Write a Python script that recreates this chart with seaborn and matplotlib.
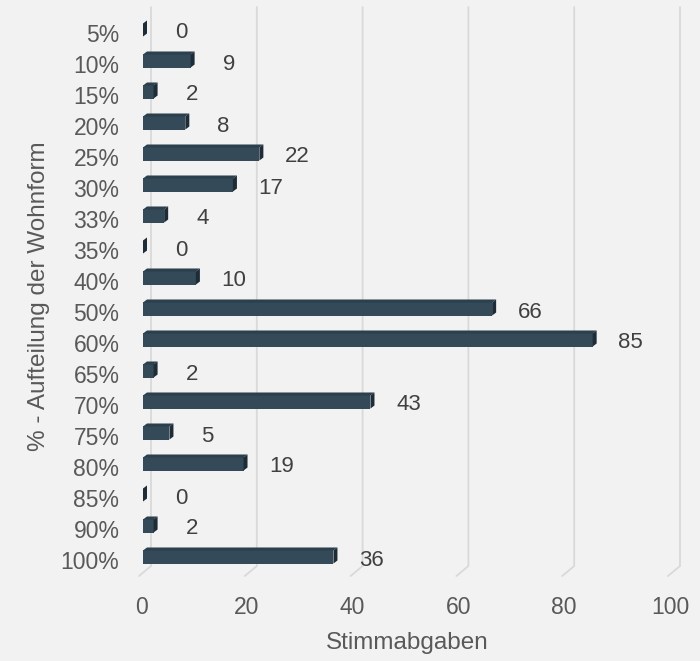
import matplotlib
matplotlib.use("Agg")
import matplotlib.pyplot as plt
import pandas as pd
import seaborn as sns
from matplotlib.patches import Polygon
from matplotlib.lines import Line2D
from matplotlib.transforms import ScaledTranslation, IdentityTransform

# Data
anteile = ["5%", "10%", "15%", "20%", "25%", "30%", "33%", "35%", "40%",
           "50%", "60%", "65%", "70%", "75%", "80%", "85%", "90%", "100%"]
stimmen = [0, 9, 2, 8, 22, 17, 4, 0, 10, 66, 85, 2, 43, 5, 19, 0, 2, 36]
x_ticks = [0, 20, 40, 60, 80, 100]

df = pd.DataFrame({"Anteil": anteile, "Stimmabgaben": stimmen})

BG = "#F2F2F2"
FRONT = "#344A59"
TOP = "#2B3F4C"
SIDE = "#1D2C36"
GRID = "#D9D9D9"
TICK_COLOR = "#595959"
LABEL_COLOR = "#404040"

sns.set_theme(style="white")
plt.rcParams["font.family"] = ["Liberation Sans", "DejaVu Sans"]

W, H = 700, 661
fig = plt.figure(figsize=(W / 100, H / 100), dpi=100, facecolor=BG)
ax = fig.add_axes([143 / W, 1 - 575.5 / H, 529 / W, 558 / H])
ax.set_facecolor(BG)

sns.barplot(data=df, x="Stimmabgaben", y="Anteil", orient="h", color=FRONT,
            saturation=1, width=0.42, ax=ax, zorder=3)

ax.set_xlim(0, 100)
ax.set_ylim(len(anteile) - 0.5, -0.5)
ax.set_xticks(x_ticks)
for s in ax.spines.values():
    s.set_visible(False)
ax.tick_params(axis="both", length=0, labelsize=16.5, labelcolor=TICK_COLOR)
ax.tick_params(axis="x", pad=15)
ax.tick_params(axis="y", pad=17)
ax.grid(False)

ax.set_xlabel("Stimmabgaben", fontsize=17.5, color=TICK_COLOR, labelpad=9)
ax.set_ylabel("% - Aufteilung der Wohnform", fontsize=17.5, color=TICK_COLOR, labelpad=8)

# bars sit slightly above the row centre, with a top and side face for depth
lift = ScaledTranslation(0, 0.03, fig.dpi_scale_trans)
bar_tr = ax.transData + lift
dx = 4 / 529 * 100      # depth in x data units (4 px)
dy = 3 / 31             # depth in row units (3 px)
for p in list(ax.patches):
    p.set_transform(bar_tr)
    p.set_edgecolor("none")
    x0 = p.get_x()
    y0 = p.get_y()
    x1 = x0 + p.get_width()
    y1 = y0 + p.get_height()
    top = Polygon([(x0, y0), (x0 + dx, y0 - dy), (x1 + dx, y0 - dy), (x1, y0)],
                  closed=True, facecolor=TOP, edgecolor="none", transform=bar_tr,
                  zorder=3, clip_on=False)
    side = Polygon([(x1, y0), (x1 + dx, y0 - dy), (x1 + dx, y1 - dy), (x1, y1)],
                   closed=True, facecolor=SIDE, edgecolor="none", transform=bar_tr,
                   zorder=3, clip_on=False)
    ax.add_patch(top)
    ax.add_patch(side)

# value labels
for i, v in enumerate(stimmen):
    ax.annotate(str(v), xy=(v, i), xytext=(27.5, 0), textcoords="offset points",
                ha="center", va="center", fontsize=16, color=LABEL_COLOR,
                annotation_clip=False)

# back-wall gridlines with the slanted floor segment
fig.canvas.draw()
for t in x_ticks:
    xf = ax.transData.transform((t, 0))[0]
    ln = Line2D([xf + 8, xf + 8, xf - 4], [H - 7, H - 566, H - 576],
                transform=IdentityTransform(), color=GRID, lw=1.3, zorder=0.5,
                clip_on=False, solid_joinstyle="miter")
    ax.add_line(ln)

for lab in ax.get_xticklabels():
    lab.set_transform(lab.get_transform() + ScaledTranslation(-0.02, 0, fig.dpi_scale_trans))

fig.savefig("out.png", dpi=100, facecolor=BG)
